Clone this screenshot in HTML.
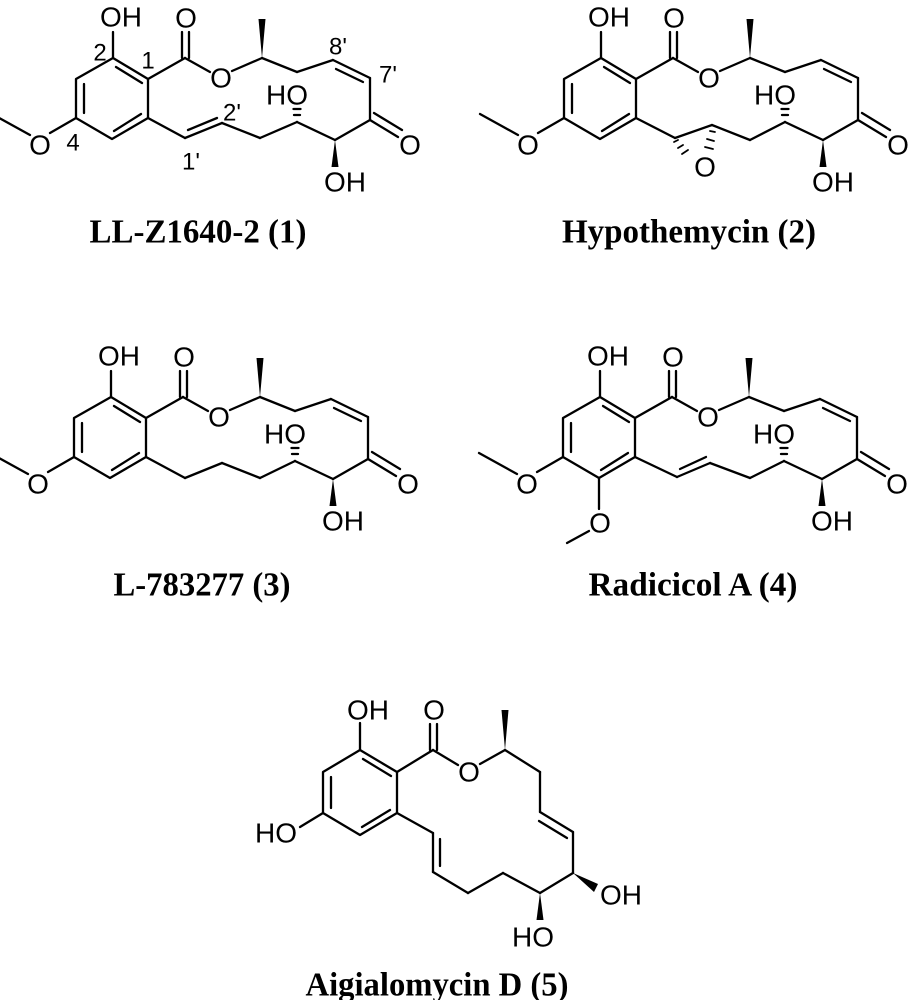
<!DOCTYPE html>
<html><head><meta charset="utf-8"><style>
html,body{margin:0;padding:0;background:#fff;}
svg{display:block;}
text{font-family:"Liberation Sans",Arial,sans-serif;fill:#000;}
.a{font-size:28px;text-anchor:middle;dominant-baseline:central;}
.n{font-size:24px;text-anchor:middle;dominant-baseline:central;}
.t{font-family:"Liberation Serif","Times New Roman",serif;font-weight:bold;font-size:34px;text-anchor:middle;dominant-baseline:central;}
line,polyline{stroke:#000;stroke-width:2.3;fill:none;stroke-linecap:round;stroke-linejoin:round;}
.h{stroke-width:1.8;}
</style></head><body>
<svg width="909" height="1000" viewBox="0 0 909 1000" xmlns="http://www.w3.org/2000/svg">
<defs>
<g id="core">
  <polyline points="113,58 148,79 148,118 112,139 76,118 76,79 113,58"/>
  <line x1="116" y1="67" x2="142" y2="83"/>
  <line x1="84" y1="84" x2="84" y2="113"/>
  <line x1="114" y1="131" x2="141" y2="114"/>
  <line x1="113" y1="58" x2="113" y2="32"/>
  <text class="a" x="121" y="17">OH</text>
  <line x1="76" y1="118" x2="50" y2="133"/>
  <text class="a" x="40" y="145">O</text>
  <line x1="30" y1="135" x2="-8" y2="114"/>
  <line x1="148" y1="79" x2="185" y2="58"/>
  <line x1="182" y1="58" x2="182" y2="32"/>
  <line x1="189" y1="58" x2="189" y2="32"/>
  <text class="a" x="186" y="18">O</text>
  <line x1="185" y1="58" x2="210" y2="72"/>
  <text class="a" x="221" y="78">O</text>
  <line x1="232" y1="71" x2="262" y2="58"/>
  <polygon points="262,58 258.5,19 265.5,19" fill="#000"/>
  <line x1="262" y1="58" x2="297" y2="72"/>
  <line x1="297" y1="72" x2="333" y2="60"/>
  <line x1="333" y1="60" x2="370" y2="78"/>
  <line x1="336" y1="69" x2="363" y2="82"/>
  <line x1="370" y1="78" x2="370" y2="120"/>
  <line x1="370" y1="120" x2="398" y2="137"/>
  <line x1="374" y1="113" x2="402" y2="130"/>
  <text class="a" x="410" y="145">O</text>
  <line x1="370" y1="120" x2="335" y2="140"/>
  <polygon points="335,140 331.5,167 338.5,167" fill="#000"/>
  <text class="a" x="345" y="182">OH</text>
  <line x1="335" y1="140" x2="297" y2="122"/>
  <line x1="294" y1="115" x2="300" y2="115"/>
  <line x1="293.5" y1="109" x2="300.5" y2="109"/>
  <text class="a" x="287" y="95">HO</text>
</g>
</defs>

<g>
  <use href="#core"/>
  <line x1="148" y1="118" x2="185" y2="138"/>
  <line x1="185" y1="138" x2="222" y2="123"/>
  <line x1="188" y1="130" x2="217" y2="118"/>
  <line x1="222" y1="123" x2="260" y2="138"/>
  <line x1="260" y1="138" x2="297" y2="122"/>
  <text class="n" x="100" y="53">2</text>
  <text class="n" x="148" y="61">1</text>
  <text class="n" x="73" y="143">4</text>
  <text class="n" x="191" y="162">1'</text>
  <text class="n" x="232" y="113">2'</text>
  <text class="n" x="338" y="47">8'</text>
  <text class="n" x="388" y="75">7'</text>
</g>
<text class="t" x="198" y="232" textLength="217" lengthAdjust="spacingAndGlyphs">LL-Z1640-2 (1)</text>

<g transform="translate(488,0)">
  <use href="#core"/>
  <line x1="148" y1="118" x2="187" y2="138"/>
  <line x1="187" y1="138" x2="224" y2="125"/>
  <line x1="224" y1="125" x2="262" y2="140"/>
  <line x1="262" y1="140" x2="297" y2="122"/>
  <line class="h" x1="186" y1="142" x2="190" y2="140"/>
  <line class="h" x1="190" y1="148" x2="195" y2="145"/>
  <line class="h" x1="194" y1="154" x2="200" y2="150"/>
  <line class="h" x1="222" y1="131" x2="227" y2="132"/>
  <line class="h" x1="219" y1="139" x2="226" y2="141"/>
  <line class="h" x1="217" y1="147" x2="225" y2="149"/>
  <text class="a" x="217" y="167">O</text>
</g>
<text class="t" x="689" y="232" textLength="254" lengthAdjust="spacingAndGlyphs">Hypothemycin (2)</text>

<g transform="translate(-2,339)">
  <use href="#core"/>
  <line x1="148" y1="118" x2="187" y2="139"/>
  <line x1="187" y1="139" x2="224" y2="124"/>
  <line x1="224" y1="124" x2="262" y2="139"/>
  <line x1="262" y1="139" x2="297" y2="122"/>
</g>
<text class="t" x="202" y="585" textLength="177" lengthAdjust="spacingAndGlyphs">L-783277 (3)</text>

<g transform="translate(487,339)">
  <use href="#core"/>
  <line x1="148" y1="118" x2="190" y2="138"/>
  <line x1="190" y1="138" x2="223" y2="124"/>
  <line x1="193" y1="130" x2="219" y2="118"/>
  <line x1="223" y1="124" x2="263" y2="139"/>
  <line x1="263" y1="139" x2="297" y2="122"/>
  <line x1="112" y1="139" x2="112" y2="170"/>
  <text class="a" x="113" y="184">O</text>
  <line x1="102" y1="192" x2="80" y2="204"/>
</g>
<text class="t" x="693" y="585" textLength="209" lengthAdjust="spacingAndGlyphs">Radicicol A (4)</text>

<g>
  <polyline points="360,750 397,772 397,813 360,835 323,813 323,772 360,750"/>
  <line x1="363" y1="759" x2="391" y2="776"/>
  <line x1="331" y1="777" x2="331" y2="808"/>
  <line x1="362" y1="827" x2="390" y2="810"/>
  <line x1="360" y1="750" x2="360" y2="723"/>
  <text class="a" x="368" y="710">OH</text>
  <line x1="323" y1="813" x2="300" y2="827"/>
  <text class="a" x="276" y="833">HO</text>
  <line x1="397" y1="772" x2="433" y2="750"/>
  <line x1="430" y1="750" x2="430" y2="724"/>
  <line x1="437" y1="750" x2="437" y2="724"/>
  <text class="a" x="434" y="710">O</text>
  <line x1="433" y1="750" x2="458" y2="765"/>
  <text class="a" x="469" y="772">O</text>
  <line x1="480" y1="764" x2="505" y2="750"/>
  <polygon points="505,750 501.5,710 508.5,710" fill="#000"/>
  <line x1="505" y1="750" x2="540" y2="772"/>
  <line x1="540" y1="772" x2="540" y2="812"/>
  <line x1="540" y1="812" x2="573" y2="832"/>
  <line x1="539" y1="821" x2="567" y2="838"/>
  <line x1="573" y1="832" x2="573" y2="873"/>
  <polygon points="573,873 598,884 594,892" fill="#000"/>
  <text class="a" x="621" y="895">OH</text>
  <line x1="573" y1="873" x2="540" y2="893"/>
  <polygon points="540,893 536.5,920 543.5,920" fill="#000"/>
  <text class="a" x="533" y="937">HO</text>
  <line x1="540" y1="893" x2="503" y2="873"/>
  <line x1="503" y1="873" x2="468" y2="893"/>
  <line x1="468" y1="893" x2="433" y2="872"/>
  <line x1="433" y1="872" x2="433" y2="833"/>
  <line x1="440" y1="866" x2="440" y2="839"/>
  <line x1="433" y1="833" x2="397" y2="813"/>
</g>
<text class="t" x="437" y="985" textLength="263" lengthAdjust="spacingAndGlyphs">Aigialomycin D (5)</text>
</svg>
</body></html>
